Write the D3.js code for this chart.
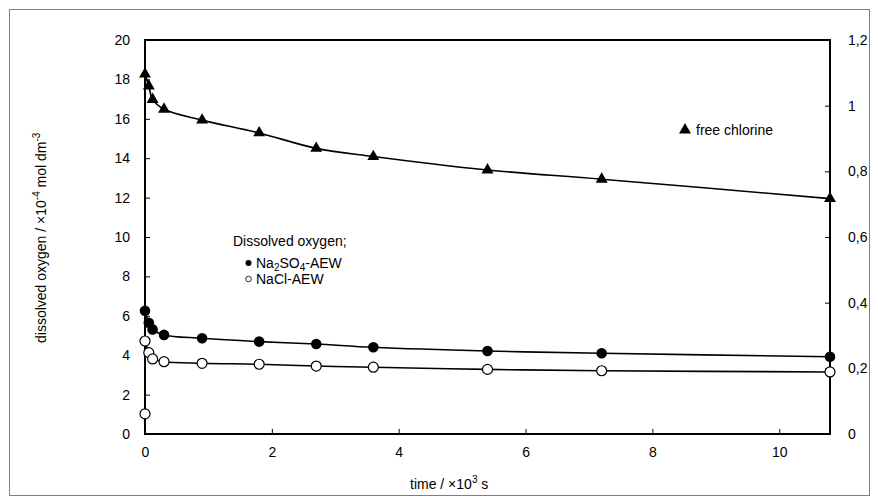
<!DOCTYPE html>
<html>
<head>
<meta charset="utf-8">
<script src="https://cdn.jsdelivr.net/npm/d3@7"></script>
<style>
  body { margin: 0; background: #fff; }
  text { font-family: "Liberation Sans", Arial, sans-serif; fill: #000; }
</style>
</head>
<body>
<svg id="chart" width="878" height="503"></svg>
<script>
// time in 10^3 s
const timeDO = [0, 0.06, 0.12, 0.3, 0.9, 1.8, 2.7, 3.6, 5.4, 7.2, 10.8];
// Na2SO4-AEW dissolved oxygen, x10^-4 mol dm^-3 (left axis)
const na2so4 = [6.26, 5.65, 5.31, 5.03, 4.86, 4.69, 4.57, 4.40, 4.21, 4.10, 3.92];
// NaCl-AEW dissolved oxygen (left axis), first point is the initial value at t=0
const timeNaCl = [0, 0, 0.06, 0.12, 0.3, 0.9, 1.8, 2.7, 3.6, 5.4, 7.2, 10.8];
const nacl = [1.02, 4.72, 4.13, 3.81, 3.67, 3.59, 3.54, 3.45, 3.39, 3.28, 3.21, 3.15];
// free chlorine (right axis)
const chlorine = [1.096, 1.060, 1.019, 0.989, 0.956, 0.917, 0.870, 0.845, 0.804, 0.776, 0.717];

const xTicks = [0, 2, 4, 6, 8, 10];
const yLeftTicks = [0, 2, 4, 6, 8, 10, 12, 14, 16, 18, 20];
const yRightTicks = [0, 0.2, 0.4, 0.6, 0.8, 1, 1.2];

const svg = d3.select("#chart");
const plotLeft = 145, plotRight = 830, plotTop = 40, plotBottom = 434;
const fs = 14;

// outer frame
svg.append("rect")
  .attr("x", 9.5).attr("y", 9.5)
  .attr("width", 860).attr("height", 486)
  .attr("fill", "none").attr("stroke", "#7f7f7f").attr("stroke-width", 1);

const x = d3.scaleLinear().domain([0, 10.8]).range([plotLeft, plotRight]);
const yL = d3.scaleLinear().domain([0, 20]).range([plotBottom, plotTop]);
const yR = d3.scaleLinear().domain([0, 1.2]).range([plotBottom, plotTop]);

// axes with inner ticks
const xAxis = svg.append("g").attr("transform", `translate(0,${plotBottom})`)
  .call(d3.axisBottom(x).tickValues(xTicks).tickSize(-5).tickPadding(13).tickFormat(d3.format("d")));
const yAxisL = svg.append("g").attr("transform", `translate(${plotLeft},0)`)
  .call(d3.axisLeft(yL).tickValues(yLeftTicks).tickSize(-5).tickPadding(15).tickFormat(d3.format("d")));
const yAxisR = svg.append("g").attr("transform", `translate(${plotRight},0)`)
  .call(d3.axisRight(yR).tickValues(yRightTicks).tickSize(-5).tickPadding(18)
    .tickFormat((d) => String(d).replace(".", ",")));

[xAxis, yAxisL, yAxisR].forEach((g) => {
  g.select(".domain").remove();
  g.selectAll(".tick line").attr("stroke", "#000").attr("stroke-width", 1);
  g.selectAll(".tick text").attr("font-size", fs).attr("fill", "#000")
    .style("font-family", "'Liberation Sans', Arial, sans-serif");
});

// plot box
svg.append("rect")
  .attr("x", plotLeft).attr("y", plotTop)
  .attr("width", plotRight - plotLeft).attr("height", plotBottom - plotTop)
  .attr("fill", "none").attr("stroke", "#000").attr("stroke-width", 2);

const curve = d3.curveCatmullRom.alpha(0.5);

// free chlorine
svg.append("path")
  .datum(timeDO.map((t, i) => [t, chlorine[i]]))
  .attr("fill", "none").attr("stroke", "#000").attr("stroke-width", 1.6)
  .attr("d", d3.line().x((d) => x(d[0])).y((d) => yR(d[1])).curve(curve));

// Na2SO4
svg.append("path")
  .datum(timeDO.map((t, i) => [t, na2so4[i]]))
  .attr("fill", "none").attr("stroke", "#000").attr("stroke-width", 1.6)
  .attr("d", d3.line().x((d) => x(d[0])).y((d) => yL(d[1])).curve(curve));

// NaCl (line from the second point on)
svg.append("path")
  .datum(timeNaCl.map((t, i) => [t, nacl[i]]).slice(1))
  .attr("fill", "none").attr("stroke", "#000").attr("stroke-width", 1.6)
  .attr("d", d3.line().x((d) => x(d[0])).y((d) => yL(d[1])).curve(curve));

const tri = d3.symbol().type(d3.symbolTriangle).size(62);

svg.selectAll(".tri").data(timeDO).enter().append("path")
  .attr("class", "tri")
  .attr("d", tri)
  .attr("transform", (d, i) => `translate(${x(d)},${yR(chlorine[i])})`)
  .attr("fill", "#000");

svg.selectAll(".fc").data(timeDO).enter().append("circle")
  .attr("class", "fc")
  .attr("cx", (d) => x(d)).attr("cy", (d, i) => yL(na2so4[i]))
  .attr("r", 5.3).attr("fill", "#000");

svg.selectAll(".oc").data(timeNaCl).enter().append("circle")
  .attr("class", "oc")
  .attr("cx", (d) => x(d)).attr("cy", (d, i) => yL(nacl[i]))
  .attr("r", 5).attr("fill", "#fff").attr("stroke", "#000").attr("stroke-width", 1.2);

// axis titles
svg.append("text")
  .attr("x", 410).attr("y", 489)
  .attr("font-size", fs)
  .html('time / ×10<tspan dy="-6" font-size="10">3</tspan><tspan dy="6"> s</tspan>');

svg.append("text")
  .attr("transform", "translate(46,343) rotate(-90)")
  .attr("font-size", fs)
  .html('dissolved oxygen / ×10<tspan dy="-6" font-size="10">-4</tspan><tspan dy="6"> mol dm</tspan><tspan dy="-6" font-size="10">-3</tspan>');

// legends
svg.append("path").attr("d", tri).attr("transform", "translate(685,130)").attr("fill", "#000");
svg.append("text").attr("x", 696).attr("y", 135).attr("font-size", fs).text("free chlorine");

svg.append("text").attr("x", 233).attr("y", 246).attr("font-size", fs).text("Dissolved oxygen;");
svg.append("circle").attr("cx", 248.5).attr("cy", 263).attr("r", 3).attr("fill", "#000");
svg.append("text").attr("x", 256).attr("y", 268).attr("font-size", fs)
  .html('Na<tspan dy="3" font-size="10">2</tspan><tspan dy="-3">SO</tspan><tspan dy="3" font-size="10">4</tspan><tspan dy="-3">-AEW</tspan>');
svg.append("circle").attr("cx", 248.5).attr("cy", 279).attr("r", 2.8)
  .attr("fill", "#fff").attr("stroke", "#000").attr("stroke-width", 0.8);
svg.append("text").attr("x", 256).attr("y", 284).attr("font-size", fs).text("NaCl-AEW");
</script>
</body>
</html>
